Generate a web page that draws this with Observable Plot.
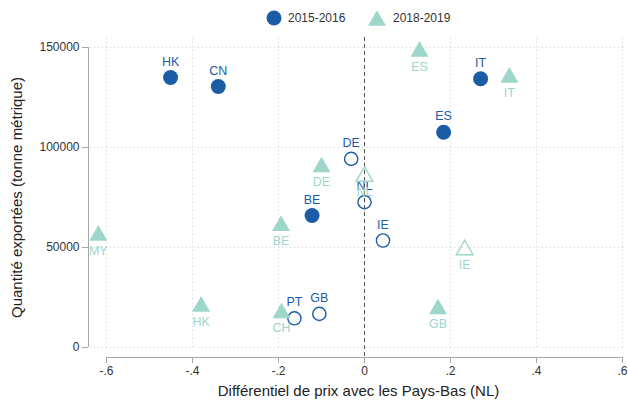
<!DOCTYPE html>
<html>
<head>
<meta charset="utf-8">
<script src="https://cdn.jsdelivr.net/npm/d3@7"></script>
<script src="https://cdn.jsdelivr.net/npm/@observablehq/plot@0.6"></script>
<style>
  html, body { margin: 0; padding: 0; background: #fff; }
  #wrap { width: 628px; font-family: "Liberation Sans", Arial, Helvetica, sans-serif; }
  #legend { display: block; }
</style>
</head>
<body>
<div id="wrap">
  <div id="legend"></div>
  <div id="chart"></div>
</div>
<script>
// ---- Data ----
const series = ["2015-2016", "2018-2019"];
const colors = ["#1b5ca6", "#9fd6cc"];

const countries15 = ["HK", "CN", "DE", "NL", "BE", "ES", "IT", "IE", "PT", "GB"];
const x15 = [-0.451, -0.340, -0.031, 0.0, -0.122, 0.184, 0.270, 0.043, -0.163, -0.105];
const y15 = [135000, 130500, 94300, 72700, 66000, 107600, 134400, 53500, 14600, 16800];
const filled15 = [true, true, false, false, true, true, true, false, false, false];

const countries18 = ["ES", "IT", "DE", "NL", "BE", "MY", "HK", "CH", "GB", "IE"];
const x18 = [0.128, 0.337, -0.100, 0.0, -0.194, -0.619, -0.380, -0.193, 0.171, 0.233];
const y18 = [148000, 135000, 90200, 85500, 60800, 56000, 20500, 17200, 19200, 48800];
const filled18 = [true, true, true, false, true, true, true, true, true, false];

const xTicks = [-0.6, -0.4, -0.2, 0, 0.2, 0.4, 0.6];
const xTickLabels = ["-.6", "-.4", "-.2", "0", ".2", ".4", ".6"];
const yTicks = [0, 50000, 100000, 150000];
const yTickLabels = ["0", "50000", "100000", "150000"];

const xLabel = "Différentiel de prix avec les Pays-Bas (NL)";
const yLabel = "Quantité exportées (tonne métrique)";

// ---- Build tables ----
const rows15 = countries15.map((c, i) => ({country: c, x: x15[i], y: y15[i], filled: filled15[i]}));
const rows18 = countries18.map((c, i) => ({country: c, x: x18[i], y: y18[i], filled: filled18[i]}));

const font = "'Liberation Sans', Arial, Helvetica, sans-serif";

// ---- Legend ----
const leg = d3.select("#legend").append("svg")
  .attr("width", 628).attr("height", 36)
  .style("display", "block")
  .style("font-family", font);
const g1 = leg.append("g").attr("transform", "translate(274,18)");
g1.append("circle").attr("r", 7.5).attr("fill", colors[0]);
g1.append("text").attr("x", 14).attr("dy", "0.35em").attr("font-size", 12).attr("fill", "#333").text(series[0]);
const g2 = leg.append("g").attr("transform", "translate(377,20.6)");
g2.append("path").attr("d", d3.symbol(d3.symbolTriangle, Math.PI * 6.7 * 6.7)()).attr("fill", colors[1]);
g2.append("text").attr("x", 16).attr("y", -2.6).attr("dy", "0.35em").attr("font-size", 12).attr("fill", "#333").text(series[1]);

// ---- Chart ----
const chart = Plot.plot({
  width: 628,
  height: 364,
  marginLeft: 90,
  marginRight: 2,
  marginTop: 2,
  marginBottom: 51,
  style: {fontFamily: font, background: "#fff", overflow: "visible"},
  x: {domain: [-0.6, 0.6], range: [106, 622]},
  y: {domain: [0, 150000], range: [311, 11]},
  marks: [
    // grid
    Plot.ruleY(yTicks, {stroke: "#cfcfcf", strokeDasharray: "1,3", strokeWidth: 1}),
    Plot.ruleX(xTicks, {stroke: "#cfcfcf", strokeDasharray: "1,3", strokeWidth: 1}),
    // reference line at 0
    Plot.ruleX([0], {stroke: "#555", strokeDasharray: "4,3", strokeWidth: 1, insetTop: -1, insetBottom: -8}),
    // axis lines
    Plot.ruleX([-0.6], {y1: 0, y2: 150000, dx: -18, stroke: "#a8a8a8", strokeWidth: 1}),
    Plot.ruleY([0], {x1: -0.6, x2: 0.6, dy: 10, stroke: "#a8a8a8", strokeWidth: 1}),
    // axes
    Plot.axisX(xTicks, {anchor: "bottom", dy: 8, tickSize: 6, tickPadding: 3, stroke: "#a8a8a8", fill: "#333",
      fontSize: 12, tickFormat: (d) => xTickLabels[xTicks.indexOf(d)], label: null}),
    Plot.axisY(yTicks, {anchor: "left", dx: -2, tickSize: 6, tickPadding: 3, stroke: "#a8a8a8", fill: "#333",
      fontSize: 12, tickFormat: (d) => yTickLabels[yTicks.indexOf(d)], label: null}),
    // axis titles
    Plot.text([xLabel], {frameAnchor: "bottom", dy: 42, text: (d) => d, fontSize: 15,
      fill: "#222", textAnchor: "middle", lineAnchor: "middle"}),
    Plot.text([yLabel], {y: () => 75000, frameAnchor: "left", dx: -73, text: (d) => d, fontSize: 15,
      fill: "#222", rotate: -90, textAnchor: "middle", lineAnchor: "middle"}),
    // 2015-2016 circles
    Plot.dot(rows15.filter(d => d.filled), {x: "x", y: "y", r: 7.5, fill: colors[0], stroke: "none"}),
    Plot.dot(rows15.filter(d => !d.filled), {x: "x", y: "y", r: 6.6, fill: "none", stroke: colors[0], strokeWidth: 1.4}),
    Plot.text(rows15, {x: "x", y: "y", text: "country", dy: -16, fill: colors[0], fontSize: 12.5, lineAnchor: "middle"}),
    // 2018-2019 triangles
    Plot.dot(rows18.filter(d => d.filled), {x: "x", y: "y", r: 6.7, symbol: "triangle", fill: colors[1], stroke: "none"}),
    Plot.dot(rows18.filter(d => !d.filled), {x: "x", y: "y", r: 6.2, symbol: "triangle", fill: "none", stroke: colors[1], strokeWidth: 1.4}),
    Plot.text(rows18, {x: "x", y: "y", text: "country", dy: 15, fill: colors[1], fontSize: 12.5, lineAnchor: "middle"})
  ]
});
document.getElementById("chart").appendChild(chart);
</script>
</body>
</html>
